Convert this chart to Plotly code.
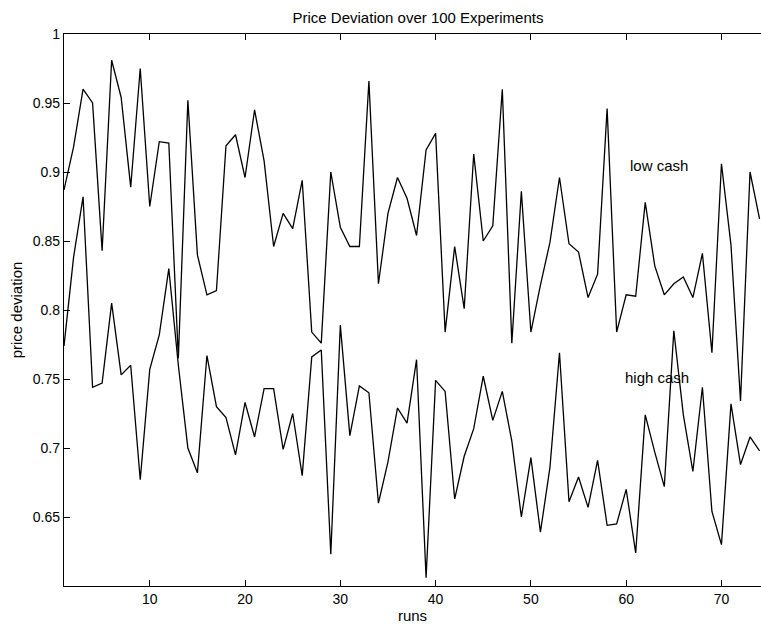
import plotly.graph_objects as go

runs = list(range(1, 75))

low_cash = [
    0.887, 0.918, 0.960, 0.950, 0.843, 0.981, 0.954, 0.889, 0.975, 0.875,
    0.922, 0.921, 0.765, 0.952, 0.840, 0.811, 0.814, 0.919, 0.927, 0.896,
    0.945, 0.908, 0.846, 0.870, 0.859, 0.894, 0.784, 0.776, 0.900, 0.860,
    0.846, 0.846, 0.966, 0.819, 0.870, 0.896, 0.881, 0.854, 0.916, 0.928,
    0.784, 0.846, 0.801, 0.913, 0.850, 0.861, 0.960, 0.776, 0.886, 0.784,
    0.818, 0.849, 0.896, 0.848, 0.842, 0.809, 0.826, 0.946, 0.784, 0.811,
    0.810, 0.878, 0.832, 0.811, 0.819, 0.824, 0.809, 0.841, 0.769, 0.906,
    0.847, 0.734, 0.900, 0.866,
]

high_cash = [
    0.774, 0.838, 0.882, 0.744, 0.747, 0.805, 0.753, 0.760, 0.677, 0.757,
    0.782, 0.830, 0.760, 0.700, 0.682, 0.767, 0.730, 0.722, 0.695, 0.733,
    0.708, 0.743, 0.743, 0.699, 0.725, 0.680, 0.766, 0.771, 0.623, 0.789,
    0.709, 0.745, 0.740, 0.660, 0.690, 0.729, 0.718, 0.764, 0.606, 0.749,
    0.741, 0.663, 0.694, 0.714, 0.752, 0.720, 0.741, 0.705, 0.650, 0.693,
    0.639, 0.686, 0.769, 0.661, 0.679, 0.657, 0.691, 0.644, 0.645, 0.670,
    0.624, 0.724, 0.697, 0.672, 0.785, 0.724, 0.683, 0.744, 0.654, 0.630,
    0.732, 0.688, 0.708, 0.698,
]

x_ticks = [10, 20, 30, 40, 50, 60, 70]
y_ticks = [0.65, 0.7, 0.75, 0.8, 0.85, 0.9, 0.95, 1.0]
y_tick_labels = ["0.65", "0.7", "0.75", "0.8", "0.85", "0.9", "0.95", "1"]

FONT = "Liberation Sans, Arial, Helvetica, sans-serif"

fig = go.Figure()
fig.add_trace(go.Scatter(x=runs, y=low_cash, mode="lines",
                         line=dict(color="black", width=1.3), name="low cash"))
fig.add_trace(go.Scatter(x=runs, y=high_cash, mode="lines",
                         line=dict(color="black", width=1.3), name="high cash"))

fig.add_annotation(x=60.2, y=0.905, text="low cash", showarrow=False,
                   xanchor="left", yanchor="middle",
                   font=dict(family=FONT, size=15, color="black"))
fig.add_annotation(x=59.7, y=0.751, text="high cash", showarrow=False,
                   xanchor="left", yanchor="middle",
                   font=dict(family=FONT, size=15, color="black"))

fig.update_layout(
    width=761, height=629,
    margin=dict(l=64, r=0, t=34, b=43),
    paper_bgcolor="white", plot_bgcolor="white",
    showlegend=False,
    font=dict(family=FONT, color="black", size=13),
    title=dict(text="Price Deviation over 100 Experiments",
               x=418 / 761, xanchor="center", y=1 - 18 / 629, yanchor="middle",
               font=dict(family=FONT, size=15, color="black")),
    xaxis=dict(range=[1, 74.15], tickvals=x_ticks, ticks="inside", ticklen=6,
               tickcolor="black", showline=True, linecolor="black", linewidth=1.3,
               mirror="ticks", showgrid=False, zeroline=False,
               tickfont=dict(size=14),
               title=dict(text="runs", font=dict(size=15), standoff=4)),
    yaxis=dict(range=[0.6, 1.0], tickvals=y_ticks, ticktext=y_tick_labels,
               ticks="inside", ticklen=6, tickcolor="black",
               showline=True, linecolor="black", linewidth=1.3, mirror=False,
               showgrid=False, zeroline=False, tickfont=dict(size=14),
               title=dict(text="price deviation", font=dict(size=15), standoff=6)),
)

fig.write_html("out.html")
